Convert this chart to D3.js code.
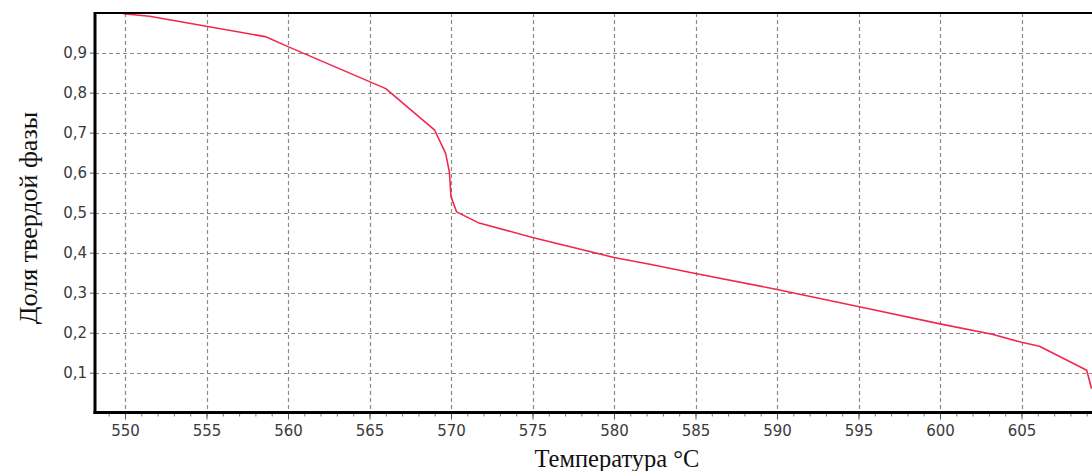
<!DOCTYPE html>
<html>
<head>
<meta charset="utf-8">
<script src="https://cdn.jsdelivr.net/npm/d3@7"></script>
<style>
  html, body { margin: 0; padding: 0; background: #fff; }
  svg { display: block; }
</style>
</head>
<body>
<svg id="chart" width="1092" height="471"></svg>
<script>
// Solid fraction vs temperature
const temperature = [549.9, 551.5, 558.6, 560.0, 566.0, 569.0, 569.67, 569.9, 570.0, 570.34, 571.67, 575.0, 580.0, 582.2, 585.0, 590.0, 595.7, 600.0, 603.2, 605.0, 606.1, 609.0, 609.3];
const solidFraction = [0.997, 0.991, 0.94, 0.915, 0.81, 0.706, 0.648, 0.602, 0.54, 0.502, 0.475, 0.438, 0.388, 0.371, 0.348, 0.308, 0.259, 0.222, 0.196, 0.176, 0.166, 0.106, 0.06];

const xTicks = [550, 555, 560, 565, 570, 575, 580, 585, 590, 595, 600, 605];
const xMinorTicks = d3.range(549, 610, 1);
const yTicks = [0.1, 0.2, 0.3, 0.4, 0.5, 0.6, 0.7, 0.8, 0.9];

const xTitle = "Температура °C";
const yTitle = "Доля твердой фазы";

const svg = d3.select("#chart");
const plot = { left: 95, right: 1092, top: 13, bottom: 412.5 };

const x = d3.scaleLinear().domain([550, 605]).range([125, 1021.5]);
const y = d3.scaleLinear().domain([0, 1]).range([412.7, 12.6]);

const tickFont = "Tahoma, 'DejaVu Sans', sans-serif";
const titleFont = "'Liberation Serif', 'Times New Roman', serif";

// grid
const grid = svg.append("g").attr("stroke", "#8a8a8a").attr("stroke-width", 1.2)
  .attr("stroke-dasharray", "4,3");
grid.selectAll("line.h").data(yTicks).join("line")
  .attr("x1", plot.left).attr("x2", plot.right)
  .attr("y1", d => Math.round(y(d)) + 0.5).attr("y2", d => Math.round(y(d)) + 0.5);
grid.selectAll("line.v").data(xTicks).join("line")
  .attr("y1", plot.top).attr("y2", plot.bottom)
  .attr("x1", d => Math.round(x(d)) + 0.5).attr("x2", d => Math.round(x(d)) + 0.5);

// curve
svg.append("clipPath").attr("id", "clip").append("rect")
  .attr("x", plot.left).attr("y", plot.top)
  .attr("width", plot.right - plot.left).attr("height", plot.bottom - plot.top);

const line = d3.line().x((d, i) => x(temperature[i])).y(d => y(d));
svg.append("path")
  .datum(solidFraction)
  .attr("clip-path", "url(#clip)")
  .attr("fill", "none")
  .attr("stroke", "#f2274e")
  .attr("stroke-width", 1.6)
  .attr("stroke-linejoin", "round")
  .attr("d", line);

// y axis
const yAxis = d3.axisLeft(y).tickValues(yTicks).tickSize(5).tickPadding(3)
  .tickFormat(d => d3.format(".1f")(d).replace(".", ","));
const gy = svg.append("g").attr("transform", `translate(${plot.left},0)`).call(yAxis);
gy.select(".domain").remove();
gy.selectAll(".tick line").attr("stroke", "#555");
gy.selectAll(".tick text").attr("font-family", tickFont).attr("font-size", 15)
  .attr("fill", "#3a3a3a");

// x axis: minor then major ticks
const gxMinor = svg.append("g").attr("transform", `translate(0,${plot.bottom})`)
  .call(d3.axisBottom(x).tickValues(xMinorTicks.filter(v => x(v) > plot.left && x(v) < plot.right)).tickSize(4).tickFormat(""));
gxMinor.select(".domain").remove();
gxMinor.selectAll(".tick line").attr("stroke", "#777");

const gx = svg.append("g").attr("transform", `translate(0,${plot.bottom})`)
  .call(d3.axisBottom(x).tickValues(xTicks).tickSize(7).tickPadding(6));
gx.select(".domain").remove();
gx.selectAll(".tick line").attr("stroke", "#555");
gx.selectAll(".tick text").attr("font-family", tickFont).attr("font-size", 15)
  .attr("fill", "#3a3a3a");

// frame
const frame = svg.append("g").attr("stroke", "#000").attr("fill", "none");
frame.append("line").attr("x1", plot.left).attr("x2", plot.right)
  .attr("y1", plot.top).attr("y2", plot.top).attr("stroke-width", 2.2);
frame.append("line").attr("x1", plot.left).attr("x2", plot.left)
  .attr("y1", plot.top - 1).attr("y2", plot.bottom + 1.5).attr("stroke-width", 3);
frame.append("line").attr("x1", plot.left - 1.5).attr("x2", plot.right)
  .attr("y1", plot.bottom).attr("y2", plot.bottom).attr("stroke-width", 3);

// titles
svg.append("text")
  .attr("x", 617).attr("y", 467)
  .attr("text-anchor", "middle")
  .attr("font-family", titleFont).attr("font-size", 24.5).attr("fill", "#111")
  .text(xTitle);

svg.append("text")
  .attr("transform", "translate(37,218) rotate(-90)")
  .attr("text-anchor", "middle")
  .attr("font-family", titleFont).attr("font-size", 26).attr("fill", "#111")
  .text(yTitle);
</script>
</body>
</html>
